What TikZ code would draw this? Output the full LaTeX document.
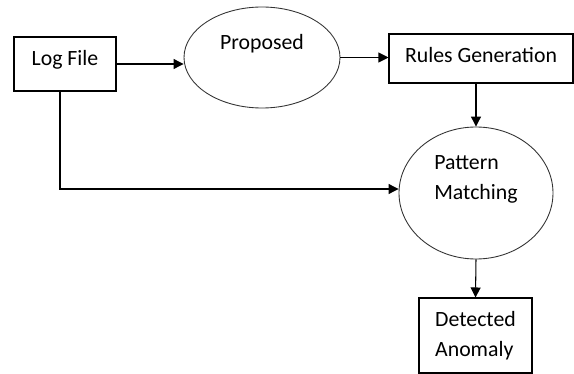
\documentclass[tikz,border=0pt]{standalone}
\usepackage{fontspec}
\setmainfont{Carlito}
\usetikzlibrary{shapes.geometric, arrows.meta}

\begin{document}
\begin{tikzpicture}[every node/.style={draw, line width=0.6pt, inner sep=2pt,
        font=\fontsize{12.4}{17.4}\selectfont},
        oval/.style={ellipse, line width=0.5pt, draw=black!80},
        flow/.style={line width=0.6pt, -{Triangle[length=2mm, width=2mm]}}]
        \useasboundingbox (0,0) rectangle (11.48,-7.48);

        \node[minimum width=2.04cm, minimum height=1.08cm, text depth=7pt] (logfile) at (1.30,-1.28) {Log File};
        \node[oval, minimum width=3.12cm, minimum height=2.02cm, align=center] (proposed) at (5.24,-1.15) {Proposed\\ \mbox{}};
        \node[minimum width=3.68cm, minimum height=0.98cm, text depth=4pt] (rules) at (9.62,-1.17) {Rules Generation};
        \node[oval, minimum width=3.08cm, minimum height=2.64cm, align=left] (pattern) at (9.52,-3.86) {Pattern\\ Matching\\ \mbox{}};
        \node[minimum width=2.26cm, minimum height=1.50cm, align=left] (detected) at (9.51,-6.71) {Detected\\ Anomaly};

        \draw[flow] (logfile.east) -- (logfile.east -| proposed.west);
        \draw[flow] (proposed.east) -- (proposed.east -| rules.west);
        \draw[flow] (pattern.north |- rules.south) -- (pattern.north);
        \draw[flow] ([xshift=-0.1cm]logfile.south) |- ([yshift=0.08cm]pattern.west);
        \draw[flow] (pattern.south) -- (detected.north);
    \end{tikzpicture}
\end{document}
